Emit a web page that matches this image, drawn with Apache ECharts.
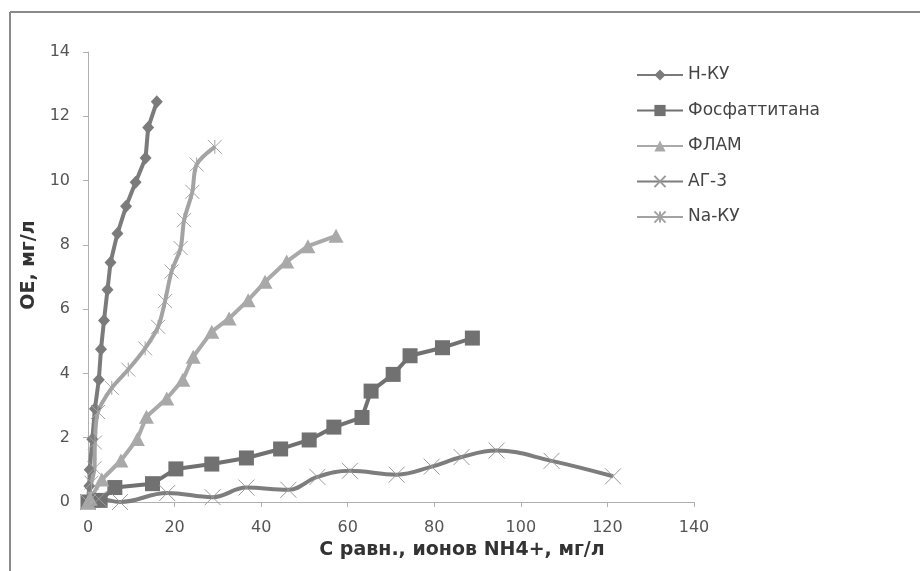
<!DOCTYPE html>
<html>
<head>
<meta charset="utf-8">
<script src="https://cdn.jsdelivr.net/npm/echarts@6/dist/echarts.min.js"></script>
<style>
html,body{margin:0;padding:0;background:#fff;}
#chart{width:920px;height:571px;}
</style>
</head>
<body>
<div id="chart"></div>
<script>
// Data: [C равн., ОЕ]
var seriesNames = ['Н-КУ', 'Фосфаттитана', 'ФЛАМ', 'АГ-3', 'Na-КУ'];
var xTicks = [0, 20, 40, 60, 80, 100, 120, 140];
var yTicks = [0, 2, 4, 6, 8, 10, 12, 14];

var hKU = [[0,0],[0.3,0.5],[0.4,1.0],[1.0,1.95],[1.6,2.9],[2.5,3.8],[3.0,4.75],[3.7,5.65],[4.5,6.6],[5.2,7.45],[6.8,8.35],[8.8,9.2],[11.0,9.95],[13.3,10.7],[13.9,11.65],[15.9,12.45]];
var fosfat = [[0,0],[2.8,0.05],[6.2,0.45],[14.9,0.57],[20.3,1.03],[28.6,1.18],[36.6,1.37],[44.5,1.65],[51.1,1.93],[56.8,2.33],[63.3,2.63],[65.4,3.45],[70.5,3.97],[74.4,4.55],[81.9,4.8],[88.8,5.1]];
var flam = [[0,0],[0.5,0.1],[3.2,0.7],[7.6,1.29],[11.4,1.96],[13.5,2.65],[18.2,3.22],[21.9,3.8],[24.3,4.52],[28.6,5.3],[32.6,5.71],[37.0,6.28],[40.9,6.85],[45.9,7.48],[50.8,7.96],[57.3,8.28]];
var ag3 = [[0,0],[2.5,0.1],[7.4,0.0],[18.3,0.28],[28.8,0.15],[36.6,0.45],[46.3,0.38],[53.0,0.78],[60.5,0.97],[71.3,0.85],[79.4,1.1],[86.3,1.4],[94.4,1.6],[107.1,1.28],[121.3,0.8]];
var naKU = [[0,0],[0.8,0.6],[1.5,1.05],[1.6,1.85],[2.3,2.8],[5.5,3.55],[9.3,4.12],[13.2,4.78],[16.2,5.45],[17.8,6.25],[19.3,7.17],[21.4,7.9],[22.2,8.77],[24.1,9.65],[25.1,10.5],[29.3,11.05]];

var chart = echarts.init(document.getElementById('chart'), null, {renderer: 'canvas'});

var xMark = 'path://M0,0L10,10M10,0L0,10';
var starMark = 'path://M0,0L10,10M10,0L0,10M5,0L5,10';

var option = {
  backgroundColor: '#ffffff',
  animation: false,
  graphic: [
    {type: 'line', shape: {x1: 10, y1: 12, x2: 920, y2: 12}, style: {stroke: '#8a8a8a', lineWidth: 2}},
    {type: 'line', shape: {x1: 10, y1: 12, x2: 10, y2: 571}, style: {stroke: '#8a8a8a', lineWidth: 2}}
  ],
  grid: {left: 88, right: 226, top: 52, bottom: 69, containLabel: false},
  legend: {
    orient: 'vertical',
    left: 636,
    top: 66,
    padding: 0,
    itemWidth: 46,
    itemHeight: 14,
    itemGap: 17.5,
    textStyle: {fontFamily: 'DejaVu Sans', fontSize: 17, lineHeight: 18, color: '#444'},
    data: seriesNames
  },
  xAxis: {
    type: 'value', min: 0, max: 140, interval: 20,
    name: 'С равн., ионов NH4+, мг/л',
    nameLocation: 'middle', nameGap: 37,
    nameTextStyle: {fontFamily: 'DejaVu Sans', fontWeight: 'bold', fontSize: 19, color: '#333', padding: [0, 0, 0, 142]},
    axisLine: {show: true, lineStyle: {color: '#b0b0b0', width: 1}},
    axisTick: {show: true, length: 5, lineStyle: {color: '#b0b0b0'}},
    axisLabel: {margin: 18, fontFamily: 'DejaVu Sans', fontSize: 16, color: '#555',
      formatter: function(v){ return xTicks.indexOf(v) >= 0 ? String(v) : ''; }},
    splitLine: {show: false}
  },
  yAxis: {
    type: 'value', min: 0, max: 14, interval: 2,
    name: 'ОЕ, мг/л',
    nameLocation: 'middle', nameGap: 26, nameRotate: 90,
    nameTextStyle: {fontFamily: 'DejaVu Sans', fontWeight: 'bold', fontSize: 19, color: '#333', padding: [0, 0, 0, 24]},
    axisLine: {show: true, lineStyle: {color: '#b0b0b0', width: 1}},
    axisTick: {show: true, length: 5, lineStyle: {color: '#b0b0b0'}},
    axisLabel: {margin: 18, fontFamily: 'DejaVu Sans', fontSize: 16, color: '#555',
      formatter: function(v){ return yTicks.indexOf(v) >= 0 ? String(v) : ''; }},
    splitLine: {show: false}
  },
  series: [
    {name: 'Н-КУ', type: 'line', data: hKU, symbol: 'diamond', symbolSize: [12, 13],
      lineStyle: {color: '#7b7b7b', width: 4}, itemStyle: {color: '#7b7b7b'}},
    {name: 'Фосфаттитана', type: 'line', data: fosfat, symbol: 'rect', symbolSize: 15,
      lineStyle: {color: '#717171', width: 4}, itemStyle: {color: '#717171'}},
    {name: 'ФЛАМ', type: 'line', data: flam, symbol: 'triangle', symbolSize: [15, 14],
      lineStyle: {color: '#a9a9a9', width: 4}, itemStyle: {color: '#a9a9a9'}},
    {name: 'АГ-3', type: 'line', data: ag3, symbol: xMark, symbolSize: 16, smooth: 0.4,
      lineStyle: {color: '#7d7d7d', width: 4},
      itemStyle: {color: 'rgba(0,0,0,0)', borderColor: '#9a9a9a', borderWidth: 1}},
    {name: 'Na-КУ', type: 'line', data: naKU, symbol: starMark, symbolSize: 14, smooth: 0.3,
      lineStyle: {color: '#a3a3a3', width: 4},
      itemStyle: {color: 'rgba(0,0,0,0)', borderColor: '#a3a3a3', borderWidth: 1}}
  ]
};
chart.setOption(option);
</script>
</body>
</html>
